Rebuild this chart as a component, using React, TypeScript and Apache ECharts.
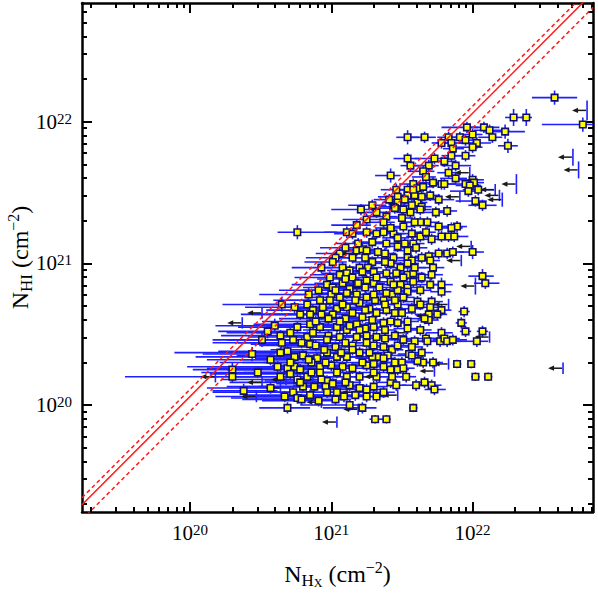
import React, { useEffect, useRef } from "react";
import * as echarts from "echarts";

// Axis ranges, in log10(N / cm^-2)
const xRange = [19.236, 22.852];
const yRange = [19.245, 22.838];
const majorExponents = [20, 21, 22];
const minorMultipliers = [2, 3, 4, 5, 6, 7, 8, 9];

// log10 offsets of the reference relations (N_HI = k * N_HX)
const solidRelation = [0.06];
const dashedRelations = [0.11, -0.045];

// [log N_HX, log N_HI, x-error low, x-error high, y-error]  (dex)
const detections = [
  [22.58, 22.17, 0.16, 0.16, 0.05], [22.29, 22.03, 0.06, 0.06, 0.06], [22.38, 22.03, 0.04, 0.04, 0.06],
  [22.78, 21.98, 0.29, 0.11, 0.05], [21.96, 21.96, 0.18, 0.08, 0.04], [22.08, 21.96, 0.14, 0.11, 0.04],
  [22.12, 21.94, 0.11, 0.14, 0.04], [22.23, 21.93, 0.14, 0.14, 0.05], [21.54, 21.89, 0.08, 0.08, 0.05],
  [21.66, 21.89, 0.13, 0.08, 0.04], [21.83, 21.89, 0.08, 0.07, 0.04], [21.91, 21.89, 0.11, 0.11, 0.04],
  [22.0, 21.91, 0.08, 0.07, 0.04], [21.95, 21.87, 0.08, 0.06, 0.04], [22.03, 21.85, 0.13, 0.1, 0.04],
  [22.0, 21.82, 0.11, 0.07, 0.04], [22.14, 21.89, 0.1, 0.07, 0.04], [22.25, 21.83, 0.07, 0.07, 0.05],
  [21.78, 21.85, 0.07, 0.11, 0.04], [21.85, 21.85, 0.11, 0.14, 0.04], [21.86, 21.81, 0.07, 0.08, 0.04],
  [21.95, 21.76, 0.11, 0.07, 0.04], [21.85, 21.76, 0.07, 0.07, 0.04], [21.54, 21.74, 0.1, 0.08, 0.04],
  [21.56, 21.69, 0.07, 0.08, 0.04], [21.73, 21.74, 0.14, 0.11, 0.04], [21.69, 21.69, 0.1, 0.07, 0.04],
  [21.8, 21.72, 0.1, 0.08, 0.04], [21.88, 21.69, 0.1, 0.11, 0.04], [21.65, 21.65, 0.11, 0.08, 0.04],
  [21.83, 21.64, 0.08, 0.08, 0.04], [21.67, 21.61, 0.1, 0.07, 0.04], [21.42, 21.62, 0.11, 0.07, 0.05],
  [21.88, 21.6, 0.11, 0.08, 0.04], [22.0, 21.59, 0.14, 0.08, 0.04], [22.01, 21.57, 0.08, 0.07, 0.04],
  [21.95, 21.56, 0.08, 0.07, 0.04], [21.98, 21.55, 0.1, 0.08, 0.04], [21.97, 21.51, 0.13, 0.07, 0.04],
  [22.04, 21.52, 0.11, 0.11, 0.04], [21.58, 21.56, 0.1, 0.07, 0.04], [21.61, 21.53, 0.08, 0.07, 0.04],
  [21.65, 21.54, 0.08, 0.08, 0.04], [21.72, 21.57, 0.11, 0.08, 0.04], [21.78, 21.56, 0.1, 0.1, 0.04],
  [21.8, 21.56, 0.07, 0.08, 0.04], [21.54, 21.52, 0.1, 0.07, 0.04], [21.47, 21.47, 0.14, 0.07, 0.04],
  [21.47, 21.43, 0.11, 0.07, 0.04], [21.54, 21.48, 0.07, 0.07, 0.04], [21.59, 21.48, 0.1, 0.08, 0.04],
  [21.61, 21.43, 0.1, 0.07, 0.04], [21.57, 21.41, 0.1, 0.08, 0.04], [21.76, 21.45, 0.11, 0.11, 0.04],
  [21.44, 21.4, 0.1, 0.07, 0.04], [21.64, 21.4, 0.08, 0.07, 0.04], [22.02, 21.44, 0.14, 0.08, 0.04],
  [22.07, 21.41, 0.1, 0.1, 0.04], [21.82, 21.37, 0.1, 0.07, 0.04], [21.89, 21.26, 0.1, 0.07, 0.04],
  [21.85, 21.25, 0.08, 0.08, 0.04], [21.76, 21.26, 0.08, 0.08, 0.04], [21.78, 21.19, 0.1, 0.07, 0.04],
  [21.83, 21.19, 0.08, 0.08, 0.04], [21.87, 21.19, 0.07, 0.1, 0.04], [21.68, 21.29, 0.1, 0.08, 0.04],
  [22.0, 21.08, 0.1, 0.08, 0.05], [21.82, 21.07, 0.11, 0.07, 0.04], [21.86, 21.08, 0.08, 0.08, 0.04],
  [21.76, 21.07, 0.08, 0.08, 0.04], [21.69, 21.05, 0.1, 0.08, 0.04], [21.7, 21.02, 0.08, 0.07, 0.04],
  [22.07, 20.91, 0.1, 0.08, 0.05], [22.09, 20.86, 0.08, 0.1, 0.04], [21.78, 20.85, 0.1, 0.08, 0.05],
  [21.78, 20.8, 0.08, 0.07, 0.04], [21.72, 20.97, 0.1, 0.08, 0.04], [21.71, 20.92, 0.08, 0.08, 0.04],
  [21.64, 20.9, 0.1, 0.07, 0.04], [21.61, 20.73, 0.1, 0.07, 0.04], [21.63, 20.71, 0.1, 0.07, 0.04],
  [21.71, 20.73, 0.08, 0.08, 0.04], [21.7, 20.69, 0.1, 0.07, 0.04], [21.78, 20.67, 0.1, 0.07, 0.04],
  [21.75, 20.64, 0.1, 0.07, 0.04], [21.94, 20.66, 0.04, 0.04, 0.04], [21.69, 20.64, 0.1, 0.07, 0.04],
  [21.69, 20.6, 0.08, 0.07, 0.04], [21.92, 20.58, 0.04, 0.04, 0.04], [21.95, 20.52, 0.04, 0.04, 0.04],
  [22.07, 20.52, 0.04, 0.04, 0.04], [22.03, 20.45, 0.14, 0.08, 0.04], [21.78, 20.51, 0.11, 0.08, 0.04],
  [21.67, 20.47, 0.14, 0.11, 0.04], [21.68, 20.45, 0.11, 0.08, 0.04], [21.77, 20.45, 0.1, 0.11, 0.04],
  [21.8, 20.47, 0.11, 0.11, 0.04], [21.82, 20.45, 0.08, 0.1, 0.04], [21.86, 20.46, 0.14, 0.1, 0.04],
  [21.59, 20.45, 0.11, 0.07, 0.04], [21.64, 20.37, 0.1, 0.08, 0.04], [21.55, 20.36, 0.08, 0.08, 0.04],
  [21.72, 20.3, 0.11, 0.07, 0.04], [21.89, 20.29, 0.03, 0.03, 0.03], [21.99, 20.29, 0.03, 0.03, 0.03],
  [22.02, 20.2, 0.03, 0.03, 0.03], [22.11, 20.2, 0.03, 0.03, 0.03], [21.65, 20.3, 0.08, 0.07, 0.04],
  [21.61, 20.31, 0.1, 0.07, 0.04], [21.53, 20.2, 0.1, 0.07, 0.04], [21.42, 20.16, 0.1, 0.06, 0.04],
  [21.46, 20.14, 0.07, 0.07, 0.04], [21.6, 20.14, 0.1, 0.07, 0.04], [21.66, 20.16, 0.08, 0.07, 0.04],
  [21.71, 20.14, 0.08, 0.07, 0.04], [21.73, 20.11, 0.07, 0.08, 0.04], [21.32, 20.06, 0.1, 0.07, 0.04],
  [21.58, 19.98, 0.03, 0.03, 0.03], [21.31, 19.9, 0.04, 0.07, 0.03], [21.39, 19.9, 0.03, 0.03, 0.03],
  [21.3, 20.86, 0.14, 0.08, 0.04], [21.34, 20.83, 0.13, 0.08, 0.04], [21.42, 20.87, 0.11, 0.08, 0.04],
  [21.49, 20.85, 0.1, 0.08, 0.04], [21.54, 20.83, 0.1, 0.08, 0.04], [21.31, 20.74, 0.14, 0.08, 0.04],
  [21.37, 20.74, 0.13, 0.08, 0.04], [21.43, 20.78, 0.11, 0.08, 0.04], [21.47, 20.71, 0.1, 0.08, 0.04],
  [21.32, 20.65, 0.17, 0.08, 0.04], [21.39, 20.67, 0.11, 0.1, 0.04], [21.45, 20.65, 0.13, 0.08, 0.04],
  [21.5, 20.65, 0.1, 0.1, 0.04], [21.54, 20.59, 0.1, 0.08, 0.04], [21.3, 20.55, 0.17, 0.08, 0.04],
  [21.37, 20.58, 0.13, 0.08, 0.04], [21.42, 20.59, 0.1, 0.08, 0.04], [21.47, 20.58, 0.11, 0.08, 0.04],
  [21.54, 20.54, 0.1, 0.07, 0.04], [21.32, 20.48, 0.16, 0.08, 0.04], [21.38, 20.47, 0.11, 0.08, 0.04],
  [21.3, 20.42, 0.16, 0.1, 0.04], [21.37, 20.41, 0.11, 0.08, 0.04], [21.43, 20.39, 0.13, 0.08, 0.04],
  [21.47, 20.42, 0.11, 0.1, 0.04], [21.33, 20.34, 0.14, 0.08, 0.04], [21.4, 20.35, 0.11, 0.1, 0.04],
  [21.45, 20.3, 0.11, 0.08, 0.04], [21.5, 20.3, 0.1, 0.1, 0.04], [21.3, 20.29, 0.16, 0.08, 0.04],
  [21.37, 20.27, 0.11, 0.08, 0.04], [21.42, 20.25, 0.11, 0.08, 0.04], [21.47, 20.25, 0.1, 0.08, 0.04],
  [21.32, 20.2, 0.16, 0.08, 0.04], [21.46, 21.52, 0.11, 0.08, 0.04], [21.58, 21.52, 0.1, 0.07, 0.04],
  [21.52, 21.45, 0.1, 0.08, 0.04], [21.39, 21.33, 0.14, 0.08, 0.04], [21.45, 21.39, 0.11, 0.08, 0.04],
  [21.51, 21.38, 0.1, 0.08, 0.04], [21.56, 21.36, 0.1, 0.08, 0.04], [21.63, 21.38, 0.08, 0.08, 0.04],
  [21.37, 21.22, 0.16, 0.08, 0.04], [21.44, 21.21, 0.13, 0.08, 0.04], [21.51, 21.26, 0.11, 0.08, 0.04],
  [21.57, 21.21, 0.1, 0.08, 0.04], [21.63, 21.19, 0.1, 0.07, 0.04], [21.39, 21.14, 0.14, 0.08, 0.04],
  [21.47, 21.12, 0.11, 0.08, 0.04], [21.54, 21.09, 0.1, 0.08, 0.04], [21.58, 21.14, 0.1, 0.08, 0.04],
  [21.38, 21.07, 0.14, 0.08, 0.04], [21.44, 21.04, 0.13, 0.08, 0.04], [21.54, 21.04, 0.1, 0.08, 0.04],
  [21.57, 21.02, 0.1, 0.08, 0.04], [21.42, 21.0, 0.13, 0.08, 0.04], [21.49, 20.97, 0.11, 0.08, 0.04],
  [21.54, 21.0, 0.1, 0.08, 0.04], [21.39, 20.93, 0.14, 0.08, 0.04], [21.46, 20.93, 0.11, 0.08, 0.04],
  [21.54, 20.92, 0.1, 0.08, 0.04], [21.58, 20.93, 0.1, 0.08, 0.04], [21.58, 20.87, 0.1, 0.08, 0.04],
  [21.39, 20.79, 0.13, 0.08, 0.04], [21.47, 20.81, 0.11, 0.08, 0.04], [21.54, 20.8, 0.1, 0.08, 0.04],
  [20.76, 21.22, 0.14, 0.28, 0.05], [21.11, 21.22, 0.16, 0.13, 0.04], [21.15, 21.21, 0.13, 0.11, 0.04],
  [21.25, 21.22, 0.14, 0.1, 0.04], [21.29, 21.15, 0.14, 0.1, 0.04], [21.18, 21.09, 0.14, 0.1, 0.04],
  [21.22, 21.1, 0.13, 0.1, 0.04], [21.06, 21.07, 0.17, 0.1, 0.04], [21.29, 21.01, 0.14, 0.1, 0.04],
  [21.24, 21.04, 0.13, 0.08, 0.04], [20.93, 20.97, 0.21, 0.08, 0.04], [21.08, 20.97, 0.18, 0.1, 0.04],
  [21.13, 20.95, 0.16, 0.1, 0.04], [21.2, 20.97, 0.14, 0.1, 0.04], [21.26, 20.97, 0.13, 0.1, 0.04],
  [21.3, 20.94, 0.13, 0.08, 0.04], [20.99, 20.9, 0.25, 0.1, 0.04], [21.06, 20.92, 0.21, 0.1, 0.04],
  [21.11, 20.93, 0.18, 0.1, 0.04], [21.15, 20.9, 0.17, 0.1, 0.04], [21.22, 20.94, 0.14, 0.08, 0.04],
  [21.25, 20.88, 0.16, 0.08, 0.04], [21.32, 20.9, 0.13, 0.08, 0.04], [20.91, 20.81, 0.28, 0.1, 0.04],
  [20.97, 20.85, 0.25, 0.1, 0.04], [21.01, 20.83, 0.21, 0.1, 0.04], [21.08, 20.86, 0.2, 0.1, 0.04],
  [21.13, 20.82, 0.18, 0.1, 0.04], [21.18, 20.85, 0.17, 0.1, 0.04], [21.24, 20.83, 0.16, 0.08, 0.04],
  [20.84, 20.78, 0.35, 0.11, 0.05], [21.0, 20.78, 0.28, 0.1, 0.04], [21.06, 20.76, 0.25, 0.1, 0.04],
  [21.11, 20.79, 0.21, 0.1, 0.04], [21.18, 20.78, 0.18, 0.1, 0.04], [21.25, 20.76, 0.17, 0.08, 0.04],
  [20.65, 20.71, 0.42, 0.14, 0.05], [20.74, 20.69, 0.35, 0.14, 0.04], [20.83, 20.71, 0.35, 0.13, 0.04],
  [20.87, 20.67, 0.33, 0.11, 0.04], [20.94, 20.69, 0.31, 0.11, 0.04], [21.04, 20.68, 0.28, 0.1, 0.04],
  [21.11, 20.69, 0.25, 0.1, 0.04], [21.2, 20.72, 0.21, 0.1, 0.04], [21.27, 20.68, 0.18, 0.08, 0.04],
  [20.78, 20.64, 0.42, 0.13, 0.04], [20.85, 20.64, 0.4, 0.13, 0.04], [20.93, 20.64, 0.37, 0.11, 0.04],
  [21.01, 20.64, 0.33, 0.11, 0.04], [21.1, 20.61, 0.28, 0.1, 0.04], [21.15, 20.65, 0.25, 0.1, 0.04],
  [21.22, 20.62, 0.21, 0.1, 0.04], [20.6, 20.56, 0.42, 0.14, 0.05], [20.76, 20.55, 0.42, 0.13, 0.04],
  [20.85, 20.57, 0.4, 0.13, 0.04], [20.92, 20.55, 0.37, 0.11, 0.04], [21.04, 20.55, 0.34, 0.11, 0.04],
  [21.11, 20.53, 0.31, 0.1, 0.04], [21.18, 20.57, 0.28, 0.1, 0.04], [21.24, 20.54, 0.24, 0.1, 0.04],
  [20.55, 20.52, 0.35, 0.14, 0.05], [20.64, 20.49, 0.42, 0.14, 0.04], [20.71, 20.51, 0.45, 0.13, 0.04],
  [20.83, 20.48, 0.42, 0.13, 0.04], [20.87, 20.51, 0.4, 0.13, 0.04], [20.98, 20.49, 0.37, 0.11, 0.04],
  [21.06, 20.48, 0.34, 0.11, 0.04], [21.18, 20.48, 0.3, 0.1, 0.04], [21.25, 20.49, 0.25, 0.1, 0.04],
  [20.65, 20.44, 0.49, 0.14, 0.04], [20.73, 20.46, 0.47, 0.13, 0.04], [20.79, 20.44, 0.45, 0.13, 0.04],
  [20.85, 20.43, 0.42, 0.13, 0.04], [20.97, 20.46, 0.4, 0.11, 0.04], [21.03, 20.41, 0.37, 0.11, 0.04],
  [21.1, 20.44, 0.34, 0.11, 0.04], [21.15, 20.42, 0.31, 0.1, 0.04], [21.25, 20.44, 0.28, 0.1, 0.04],
  [20.44, 20.36, 0.35, 0.16, 0.05], [20.64, 20.37, 0.75, 0.14, 0.04], [20.69, 20.38, 0.49, 0.14, 0.04],
  [20.74, 20.34, 0.7, 0.13, 0.04], [20.8, 20.35, 0.47, 0.13, 0.04], [20.9, 20.33, 0.44, 0.13, 0.04],
  [20.97, 20.37, 0.41, 0.11, 0.04], [21.04, 20.34, 0.38, 0.11, 0.04], [21.11, 20.34, 0.35, 0.11, 0.04],
  [21.2, 20.37, 0.31, 0.1, 0.04], [21.29, 20.34, 0.25, 0.1, 0.04], [20.62, 20.27, 0.64, 0.14, 0.04],
  [20.69, 20.26, 0.57, 0.14, 0.04], [20.74, 20.27, 0.54, 0.13, 0.04], [20.78, 20.25, 0.52, 0.13, 0.04],
  [20.86, 20.3, 0.49, 0.13, 0.04], [20.92, 20.27, 0.47, 0.13, 0.04], [21.0, 20.28, 0.42, 0.11, 0.04],
  [21.08, 20.27, 0.4, 0.11, 0.04], [21.15, 20.26, 0.35, 0.11, 0.04], [21.25, 20.28, 0.31, 0.1, 0.04],
  [20.3, 20.25, 0.28, 0.18, 0.05], [20.3, 20.2, 0.21, 0.18, 0.04], [20.64, 20.2, 1.1, 0.14, 0.04],
  [20.71, 20.22, 0.57, 0.14, 0.04], [20.76, 20.18, 0.54, 0.13, 0.04], [20.83, 20.2, 0.51, 0.13, 0.04],
  [20.92, 20.23, 0.47, 0.13, 0.04], [20.97, 20.17, 0.44, 0.11, 0.04], [21.04, 20.23, 0.41, 0.11, 0.04],
  [21.11, 20.2, 0.38, 0.11, 0.04], [21.2, 20.2, 0.34, 0.1, 0.04], [21.3, 20.23, 0.31, 0.1, 0.04],
  [20.38, 20.1, 0.22, 0.24, 0.05], [20.73, 20.09, 0.57, 0.14, 0.04], [20.8, 20.13, 0.54, 0.13, 0.04],
  [20.88, 20.13, 0.49, 0.13, 0.04], [20.96, 20.13, 0.47, 0.11, 0.04], [21.04, 20.09, 0.42, 0.11, 0.04],
  [21.13, 20.14, 0.4, 0.11, 0.04], [21.2, 20.12, 0.35, 0.1, 0.04], [21.3, 20.13, 0.31, 0.1, 0.04],
  [20.67, 20.06, 0.49, 0.14, 0.04], [20.76, 20.05, 0.47, 0.13, 0.04], [20.79, 20.04, 0.42, 0.13, 0.04],
  [20.97, 20.09, 0.4, 0.11, 0.04], [21.25, 20.06, 0.28, 0.1, 0.04], [20.69, 19.98, 0.2, 0.16, 0.04],
  [21.13, 20.0, 0.35, 0.11, 0.04], [21.22, 19.98, 0.28, 0.1, 0.04], [21.21, 21.38, 0.21, 0.1, 0.04],
  [21.29, 21.41, 0.17, 0.1, 0.04], [21.32, 21.36, 0.14, 0.1, 0.04], [21.25, 21.31, 0.17, 0.1, 0.04],
  [21.18, 21.27, 0.18, 0.1, 0.04], [21.03, 21.04, 0.21, 0.1, 0.04], [21.1, 21.11, 0.18, 0.1, 0.04],
  [21.01, 21.01, 0.2, 0.1, 0.04], [21.15, 21.04, 0.17, 0.1, 0.04], [21.19, 21.14, 0.16, 0.1, 0.04],
  [21.25, 21.09, 0.14, 0.1, 0.04], [21.33, 21.08, 0.13, 0.08, 0.04], [21.38, 21.01, 0.13, 0.08, 0.04],
  [21.32, 21.21, 0.14, 0.08, 0.04], [21.37, 21.29, 0.13, 0.08, 0.04], [21.42, 21.25, 0.11, 0.08, 0.04],
  [21.47, 21.18, 0.11, 0.08, 0.04], [21.52, 21.14, 0.1, 0.08, 0.04], [21.6, 21.11, 0.1, 0.08, 0.04],
  [21.63, 21.29, 0.1, 0.08, 0.04], [21.67, 21.22, 0.1, 0.07, 0.04], [21.71, 21.17, 0.1, 0.07, 0.04],
  [21.74, 21.36, 0.1, 0.07, 0.04], [21.7, 21.48, 0.1, 0.07, 0.04], [21.64, 21.47, 0.1, 0.07, 0.04],
  [21.5, 21.32, 0.1, 0.08, 0.04], [21.59, 21.29, 0.1, 0.08, 0.04], [21.41, 21.45, 0.11, 0.08, 0.04],
  [20.89, 20.42, 0.4, 0.12, 0.04], [20.95, 20.39, 0.38, 0.11, 0.04], [21.07, 20.37, 0.35, 0.11, 0.04],
  [21.15, 20.39, 0.3, 0.1, 0.04], [21.22, 20.3, 0.28, 0.1, 0.04], [21.27, 20.37, 0.25, 0.1, 0.04],
  [21.37, 20.33, 0.2, 0.08, 0.04], [21.43, 20.2, 0.15, 0.08, 0.04], [21.51, 20.26, 0.12, 0.08, 0.04],
  [21.57, 20.35, 0.1, 0.08, 0.04], [20.93, 20.18, 0.42, 0.11, 0.04], [21.01, 20.15, 0.4, 0.11, 0.04],
  [21.1, 20.16, 0.36, 0.11, 0.04], [21.17, 20.07, 0.33, 0.1, 0.04], [21.25, 20.11, 0.3, 0.1, 0.04],
  [21.37, 20.09, 0.2, 0.08, 0.04], [20.85, 20.07, 0.45, 0.12, 0.04], [20.91, 20.03, 0.4, 0.11, 0.04],
  [21.03, 20.04, 0.36, 0.11, 0.04], [21.09, 20.06, 0.33, 0.1, 0.04], [20.57, 20.32, 0.45, 0.14, 0.04],
  [20.51, 20.46, 0.35, 0.15, 0.05], [20.48, 20.23, 0.4, 0.15, 0.04], [20.57, 20.12, 0.45, 0.14, 0.04],
  [20.84, 20.32, 0.47, 0.13, 0.04], [20.71, 20.3, 0.5, 0.14, 0.04], [20.78, 20.16, 0.5, 0.13, 0.04],
  [20.86, 20.23, 0.48, 0.13, 0.04], [20.96, 20.3, 0.44, 0.11, 0.04], [20.89, 20.59, 0.38, 0.12, 0.04],
  [20.98, 20.61, 0.35, 0.11, 0.04], [21.06, 20.59, 0.32, 0.11, 0.04], [21.13, 20.56, 0.3, 0.1, 0.04],
  [21.2, 20.53, 0.27, 0.1, 0.04], [21.29, 20.6, 0.22, 0.1, 0.04], [21.38, 20.53, 0.16, 0.08, 0.04],
  [21.45, 20.49, 0.14, 0.08, 0.04], [21.51, 20.46, 0.12, 0.08, 0.04], [21.57, 20.41, 0.1, 0.08, 0.04],
  [21.63, 20.53, 0.1, 0.08, 0.04], [21.66, 20.61, 0.1, 0.07, 0.04], [21.57, 20.68, 0.1, 0.08, 0.04],
  [21.45, 20.74, 0.12, 0.08, 0.04], [21.51, 20.76, 0.11, 0.08, 0.04], [21.63, 20.81, 0.1, 0.08, 0.04],
  [21.7, 20.85, 0.1, 0.08, 0.04], [21.59, 20.97, 0.1, 0.08, 0.04], [21.64, 21.04, 0.1, 0.08, 0.04],
  [21.24, 20.67, 0.22, 0.1, 0.04], [21.17, 20.74, 0.24, 0.1, 0.04], [21.08, 20.71, 0.26, 0.1, 0.04],
  [20.99, 20.74, 0.3, 0.11, 0.04], [20.92, 20.74, 0.33, 0.11, 0.04], [21.03, 20.81, 0.24, 0.1, 0.04],
  [21.1, 20.89, 0.2, 0.1, 0.04], [21.19, 20.86, 0.18, 0.1, 0.04], [21.3, 20.78, 0.16, 0.08, 0.04],
  [21.38, 20.71, 0.14, 0.08, 0.04], [21.44, 20.85, 0.12, 0.08, 0.04], [21.51, 20.9, 0.1, 0.08, 0.04],
];

// [log N_HX upper limit, log N_HI, y-error]  (dex)
const upperLimits = [
  [22.81, 22.08, 0.07], [22.71, 21.75, 0.06], [22.75, 21.66, 0.06], [21.98, 21.64, 0.04],
  [22.31, 21.56, 0.07], [22.16, 21.52, 0.04], [22.19, 21.48, 0.04], [22.21, 21.45, 0.05],
  [21.91, 21.47, 0.04], [21.99, 21.12, 0.04], [21.92, 21.02, 0.04], [22.02, 20.84, 0.06],
  [21.83, 20.71, 0.04], [22.12, 20.48, 0.04], [21.83, 20.29, 0.04], [21.73, 20.24, 0.04],
  [21.47, 20.07, 0.04], [22.64, 20.26, 0.04], [20.18, 20.2, 0.04], [20.51, 20.16, 0.04],
  [20.47, 20.06, 0.04], [20.64, 20.12, 0.04], [20.68, 20.18, 0.04], [20.93, 20.02, 0.04],
  [21.19, 19.97, 0.04], [21.04, 19.88, 0.04], [20.51, 20.65, 0.04], [20.37, 20.58, 0.04],
  [20.9, 20.33, 0.04], [20.87, 20.18, 0.04], [21.7, 20.63, 0.04], [21.17, 21.07, 0.04],
  [21.53, 20.51, 0.04], [21.34, 20.2, 0.04], [21.18, 20.09, 0.04],
];

const FONT = "Liberation Serif, DejaVu Serif, serif";
const INK = "#000000";
const BAR_BLUE = "#1f1fff";
const MARK_FILL = "#ffff00";
const MARK_EDGE = "#10106e";
const REL_RED = "#ff1a1a";

function minorValues(range: number[]) {
  const out: number[] = [];
  for (let e = Math.floor(range[0]); e <= Math.ceil(range[1]); e++) {
    for (const m of minorMultipliers) {
      const v = e + Math.log10(m);
      if (v > range[0] && v < range[1]) out.push(v);
    }
  }
  return out;
}

const tickRich = {
  b: { fontFamily: FONT, fontSize: 21, color: INK, lineHeight: 21, verticalAlign: "bottom" },
  s: { fontFamily: FONT, fontSize: 15, color: INK, lineHeight: 11, verticalAlign: "top" },
};

const titleRich = {
  n: { fontFamily: FONT, fontSize: 24, color: INK, lineHeight: 30, verticalAlign: "middle" },
  h: { fontFamily: FONT, fontSize: 17, color: INK, lineHeight: 15, verticalAlign: "bottom" },
  x: { fontFamily: FONT, fontSize: 12, color: INK, lineHeight: 8, verticalAlign: "bottom" },
  e: { fontFamily: FONT, fontSize: 16, color: INK, lineHeight: 16, verticalAlign: "top" },
};

function makeAxis(range: number[], position: string, major: boolean, labels: boolean, name?: string, gap?: number) {
  const ticks = major ? majorExponents : minorValues(range);
  const ax: any = {
    type: "value",
    min: range[0],
    max: range[1],
    position,
    axisLine: { show: major, onZero: false, lineStyle: { color: INK, width: 2.5 } },
    axisTick: {
      show: true,
      inside: true,
      length: major ? 10 : 5,
      lineStyle: { color: INK, width: 2 },
      customValues: ticks,
    },
    axisLabel: labels
      ? {
          show: true,
          customValues: majorExponents,
          margin: 10,
          formatter: (v: number) => `{b|10}{s|${Math.round(v)}}`,
          rich: tickRich,
        }
      : { show: false },
    splitLine: { show: false },
    minorTick: { show: false },
    axisPointer: { show: false },
  };
  if (name) {
    ax.name = name;
    ax.nameLocation = "middle";
    ax.nameGap = gap;
    ax.nameMoveOverlap = false;
    ax.nameTextStyle = { rich: titleRich, fontFamily: FONT, color: INK };
  }
  return ax;
}

function errorBarItem(params: any, api: any) {
  const x = api.value(0);
  const y = api.value(1);
  const lo = api.value(2);
  const hi = api.value(3);
  const ey = api.value(4);
  const a = api.coord([Math.max(x - lo, xRange[0]), y]);
  const b = api.coord([Math.min(x + hi, xRange[1]), y]);
  const c = api.coord([x, y - ey]);
  const d = api.coord([x, y + ey]);
  return {
    type: "group",
    children: [
      { type: "line", shape: { x1: a[0], y1: a[1], x2: b[0], y2: b[1] }, style: { stroke: BAR_BLUE, lineWidth: 1.6 } },
      { type: "line", shape: { x1: c[0], y1: c[1], x2: d[0], y2: d[1] }, style: { stroke: BAR_BLUE, lineWidth: 1.6 } },
    ],
  };
}

function limitItem(params: any, api: any) {
  const x = api.value(0);
  const y = api.value(1);
  const ey = api.value(2);
  const p = api.coord([x, y]);
  const t = api.coord([x, y + ey]);
  const bt = api.coord([x, y - ey]);
  const tip = p[0] - 15;
  return {
    type: "group",
    children: [
      { type: "line", shape: { x1: p[0], y1: t[1], x2: p[0], y2: bt[1] }, style: { stroke: BAR_BLUE, lineWidth: 1.6 } },
      { type: "line", shape: { x1: p[0] - 1, y1: p[1], x2: tip + 4, y2: p[1] }, style: { stroke: "#1a1a1a", lineWidth: 1.5 } },
      {
        type: "polygon",
        shape: { points: [[tip, p[1]], [tip + 6, p[1] - 2.6], [tip + 6, p[1] + 2.6]] },
        style: { fill: "#1a1a1a" },
      },
    ],
  };
}

function relationLine(offset: number, dashed: boolean) {
  return {
    type: "line",
    data: [
      [xRange[0], xRange[0] + offset],
      [xRange[1], xRange[1] + offset],
    ],
    showSymbol: false,
    symbol: "none",
    silent: true,
    clip: true,
    z: 5,
    lineStyle: { color: REL_RED, width: 1.5, type: dashed ? [4, 3] : "solid" },
  };
}

function buildOption() {
  const xName = "{n|N}{h|H}{x|X}{n| (cm}{e|−2}{n|)}";
  const yName = "{n|N}{h|HI}{n| (cm}{e|−2}{n|)}";
  return {
    animation: false,
    backgroundColor: "#ffffff",
    grid: { left: 82, top: 3, right: 5, bottom: 88, containLabel: false, outerBoundsMode: "none" },
    xAxis: [
      makeAxis(xRange, "bottom", true, true, xName, 47),
      makeAxis(xRange, "bottom", false, false),
      makeAxis(xRange, "top", true, false),
      makeAxis(xRange, "top", false, false),
    ],
    yAxis: [
      makeAxis(yRange, "left", true, true, yName, 47),
      makeAxis(yRange, "left", false, false),
      makeAxis(yRange, "right", true, false),
      makeAxis(yRange, "right", false, false),
    ],
    series: [
      {
        type: "custom",
        renderItem: errorBarItem,
        data: detections,
        encode: { x: 0, y: 1 },
        clip: true,
        silent: true,
        z: 2,
      },
      {
        type: "custom",
        renderItem: limitItem,
        data: upperLimits,
        encode: { x: 0, y: 1 },
        clip: true,
        silent: true,
        z: 3,
      },
      {
        type: "scatter",
        data: detections.map((d) => [d[0], d[1]]),
        symbol: "rect",
        symbolSize: 6.5,
        itemStyle: { color: MARK_FILL, borderColor: MARK_EDGE, borderWidth: 1.6, opacity: 1 },
        silent: true,
        z: 4,
      },
      relationLine(solidRelation[0], false),
      relationLine(dashedRelations[0], true),
      relationLine(dashedRelations[1], true),
    ],
  };
}

export default function App() {
  const ref = useRef<HTMLDivElement>(null);
  useEffect(() => {
    if (!ref.current) return;
    const chart = echarts.init(ref.current, undefined, { renderer: "svg" });
    chart.setOption(buildOption() as any);
    return () => chart.dispose();
  }, []);
  return (
    <div
      ref={ref}
      style={{ position: "fixed", left: 0, top: 0, width: 598, height: 600, background: "#fff" }}
    />
  );
}
